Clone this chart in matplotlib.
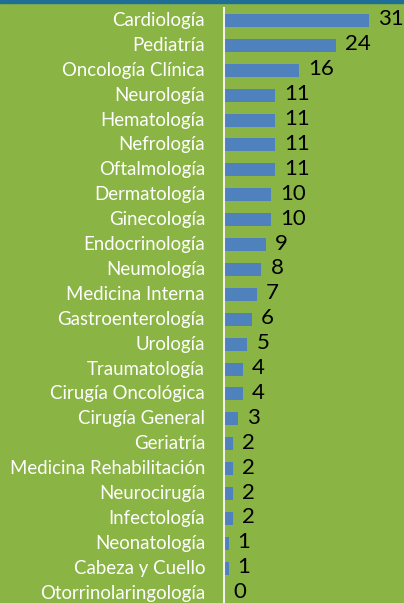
import matplotlib.pyplot as plt

categorias = ["Cardiología", "Pediatría", "Oncología Clínica", "Neurología",
              "Hematología", "Nefrología", "Oftalmología", "Dermatología",
              "Ginecología", "Endocrinología", "Neumología", "Medicina Interna",
              "Gastroenterología", "Urología", "Traumatología",
              "Cirugía Oncológica", "Cirugía General", "Geriatría",
              "Medicina Rehabilitación", "Neurocirugía", "Infectología",
              "Neonatología", "Cabeza y Cuello", "Otorrinolaringología"]
valores = [31, 24, 16, 11, 11, 11, 11, 10, 10, 9, 8, 7, 6, 5, 4, 4, 3,
           2, 2, 2, 2, 1, 1, 0]

verde = "#8AB443"
azul = "#4F81BD"

plt.rcParams['font.family'] = ['Lato', 'DejaVu Sans']

W, H = 404, 603
fig = plt.figure(figsize=(W / 100, H / 100), dpi=100, facecolor=verde)

# franja superior
fig.add_artist(plt.Rectangle((0, 1 - 3 / H), 1, 3 / H, transform=fig.transFigure,
                             color="#1E6E96", zorder=5))

row = 24.9
top = 8
n = len(categorias)
bottom_px = top + row * n
ax = fig.add_axes([224 / W, 1 - bottom_px / H, (W - 224) / W, row * n / H])
ax.set_facecolor(verde)

pos = list(range(n))
ax.barh(pos, valores, height=0.52, color=azul)
ax.set_ylim(n - 0.5, -0.5)
ax.set_xlim(0, (W - 224) / 4.68)

for i, v in enumerate(valores):
    ax.annotate(str(v), (v, i), xytext=(9, 1), textcoords="offset pixels",
                ha="left", va="center", fontsize=16, color="black")
    ax.annotate(categorias[i], (0, i), xytext=(-19, 0), textcoords="offset pixels",
                ha="right", va="center",
                fontsize=13.4, color="white", annotation_clip=False)

ax.set_xticks([])
ax.set_yticks([])
for s in ["top", "right", "bottom"]:
    ax.spines[s].set_visible(False)
ax.spines["left"].set_color("#F2F2F2")
ax.spines["left"].set_linewidth(1.5)

fig.savefig("out.png", dpi=100, facecolor=verde)
